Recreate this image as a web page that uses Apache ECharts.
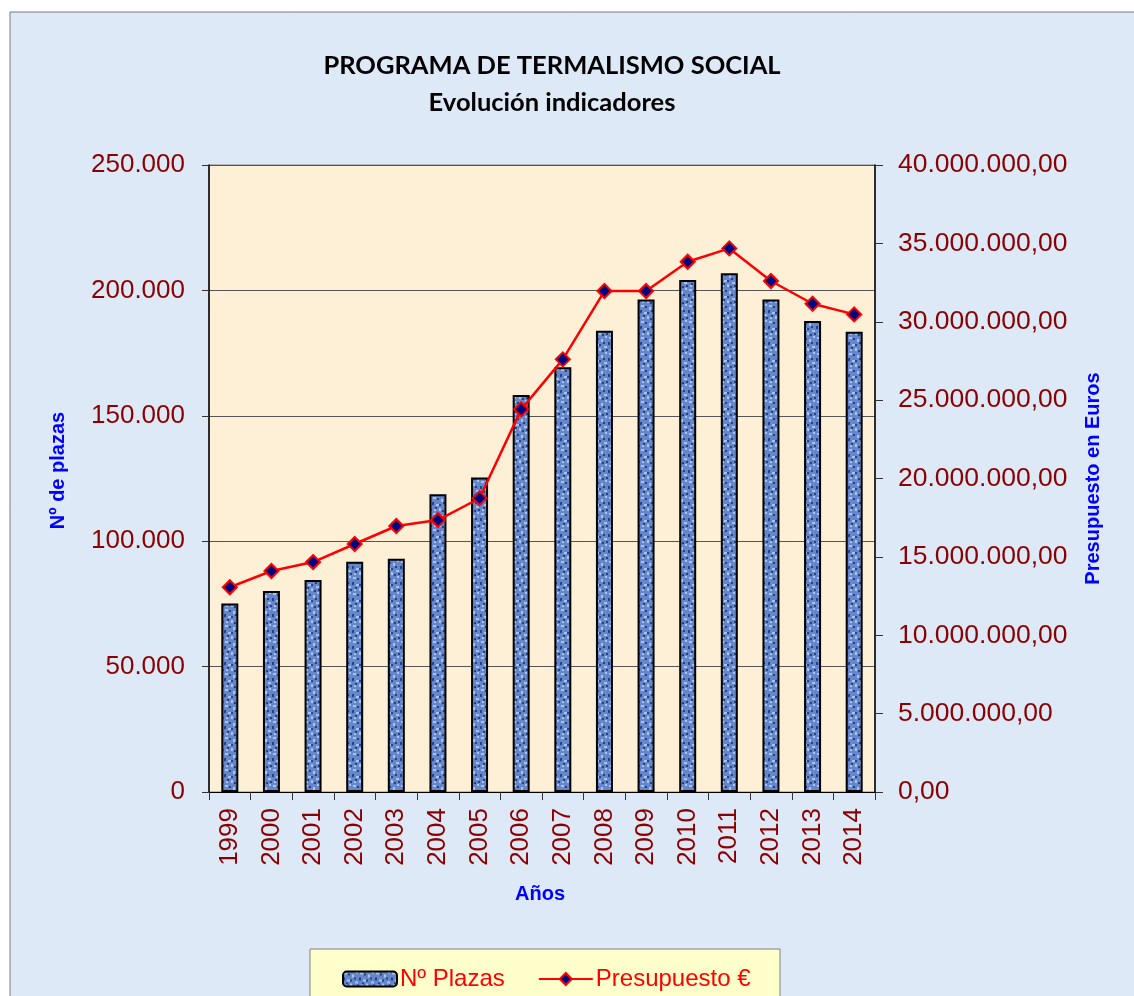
<!DOCTYPE html>
<html>
<head>
<meta charset="utf-8">
<script src="https://cdn.jsdelivr.net/npm/echarts@6/dist/echarts.min.js"></script>
<style>
html,body{margin:0;padding:0;background:#ffffff;}
#chart{width:1134px;height:996px;}
</style>
</head>
<body>
<div id="chart"></div>
<script>
var years = ['1999','2000','2001','2002','2003','2004','2005','2006','2007','2008','2009','2010','2011','2012','2013','2014'];
var plazas = [75200, 80100, 84500, 91800, 93000, 118700, 125400, 158300, 169400, 183900, 196400, 204100, 206800, 196400, 187800, 183500];
var presupuesto = [13060000, 14100000, 14670000, 15820000, 16970000, 17350000, 18740000, 24410000, 27600000, 31960000, 31960000, 33830000, 34680000, 32600000, 31150000, 30470000];
var leftTicks = {min: 0, max: 250000, interval: 50000};
var rightTicks = {min: 0, max: 40000000, interval: 5000000};

function fmtThousands(v){
  var s = Math.round(v).toString();
  return s.replace(/\B(?=(\d{3})+(?!\d))/g, '.');
}
function fmtEuros(v){
  return fmtThousands(v) + ',00';
}

function makePattern(){
  var c = document.createElement('canvas');
  c.width = 16; c.height = 16;
  var g = c.getContext('2d');
  g.fillStyle = '#6586c8'; g.fillRect(0,0,16,16);
  var light = [[1,1,3,2],[9,3,2,3],[4,8,3,2],[12,10,3,2],[2,13,2,2],[7,12,2,3],[13,0,2,2]];
  var dark = [[5,2,2,2],[0,6,2,3],[11,6,2,2],[7,8,2,2],[14,13,2,2],[3,11,2,2],[10,14,2,2]];
  g.fillStyle = '#a9c2ee';
  light.forEach(function(r){ g.fillRect(r[0],r[1],r[2],r[3]); });
  g.fillStyle = '#23428a';
  dark.forEach(function(r){ g.fillRect(r[0],r[1],r[2],r[3]); });
  return c;
}
var barPattern = {image: makePattern(), repeat: 'repeat'};

var labelColor = '#8b0000';
var chart = echarts.init(document.getElementById('chart'), null, {renderer: 'canvas'});
var option = {
  backgroundColor: '#ffffff',
  animation: false,
  graphic: [
    {type: 'rect', z: -10, shape: {x: 10, y: 12, width: 1130, height: 990},
     style: {fill: '#dde9f7', stroke: '#7a7a7a', lineWidth: 1}},
    {type: 'rect', z: -5, shape: {x: 310, y: 949, width: 470, height: 60},
     style: {fill: '#ffffcc', stroke: '#808080', lineWidth: 1}}
  ],
  title: {
    text: 'PROGRAMA DE TERMALISMO SOCIAL\nEvolución indicadores',
    left: 547, top: 42, textAlign: 'center',
    textStyle: {fontFamily: 'Lato', fontWeight: 'bold', fontSize: 25.5, color: '#000', lineHeight: 37}
  },
  legend: {
    left: 337, top: 962,
    itemWidth: 54, itemHeight: 15, itemGap: 33,
    textStyle: {color: '#ff0000', fontFamily: 'Liberation Sans', fontSize: 24, padding: [0,0,0,-2]},
    data: [
      {name: 'Nº Plazas', itemStyle: {color: barPattern, borderColor: '#000', borderWidth: 2}},
      {name: 'Presupuesto €'}
    ]
  },
  grid: {
    left: 209, top: 165, right: 259, bottom: 204,
    show: true, backgroundColor: '#fdf0d6', borderColor: '#808080', borderWidth: 1
  },
  xAxis: {
    type: 'category', data: years,
    name: 'Años', nameLocation: 'middle', nameGap: 92,
    nameTextStyle: {color: '#0000ff', fontFamily: 'Liberation Sans', fontWeight: 'bold', fontSize: 20, padding: [0,4,0,0]},
    axisLine: {lineStyle: {color: '#000', width: 1}},
    axisTick: {show: true, length: 8, lineStyle: {color: '#333'}},
    axisLabel: {rotate: 90, margin: 16, color: labelColor, fontFamily: 'Liberation Sans', fontSize: 26}
  },
  yAxis: [
    {
      type: 'value', position: 'left',
      min: leftTicks.min, max: leftTicks.max, interval: leftTicks.interval,
      name: 'Nº de plazas', nameLocation: 'middle', nameGap: 141, nameRotate: 90,
      nameTextStyle: {color: '#0000ff', fontFamily: 'Liberation Sans', fontWeight: 'bold', fontSize: 20, padding: [0,0,0,16]},
      axisLine: {show: true, lineStyle: {color: '#000', width: 1.5}},
      axisTick: {show: true, length: 7, lineStyle: {color: '#333'}},
      splitLine: {show: true, lineStyle: {color: '#555', width: 1}},
      axisLabel: {margin: 24, color: labelColor, fontFamily: 'Liberation Sans', fontSize: 26,
                  formatter: function(v){ return fmtThousands(v); }}
    },
    {
      type: 'value', position: 'right',
      min: rightTicks.min, max: rightTicks.max, interval: rightTicks.interval,
      name: 'Presupuesto en Euros', nameLocation: 'middle', nameGap: 208, nameRotate: 90,
      nameTextStyle: {color: '#0000ff', fontFamily: 'Liberation Sans', fontWeight: 'bold', fontSize: 20, padding: [0,0,0,0]},
      axisLine: {show: true, lineStyle: {color: '#000', width: 1.5}},
      axisTick: {show: true, length: 8, lineStyle: {color: '#333'}},
      splitLine: {show: false},
      axisLabel: {margin: 23, color: labelColor, fontFamily: 'Liberation Sans', fontSize: 26.5,
                  formatter: function(v){ return fmtEuros(v); }}
    }
  ],
  series: [
    {
      name: 'Nº Plazas', type: 'bar', yAxisIndex: 0, data: plazas,
      barWidth: 17,
      itemStyle: {color: barPattern, borderColor: '#000', borderWidth: 2}
    },
    {
      name: 'Presupuesto €', type: 'line', yAxisIndex: 1, data: presupuesto,
      symbol: 'diamond', symbolSize: 14,
      lineStyle: {color: '#ff0000', width: 2.5},
      itemStyle: {color: '#000080', borderColor: '#ff0000', borderWidth: 2}
    }
  ]
};
chart.setOption(option);
</script>
</body>
</html>
